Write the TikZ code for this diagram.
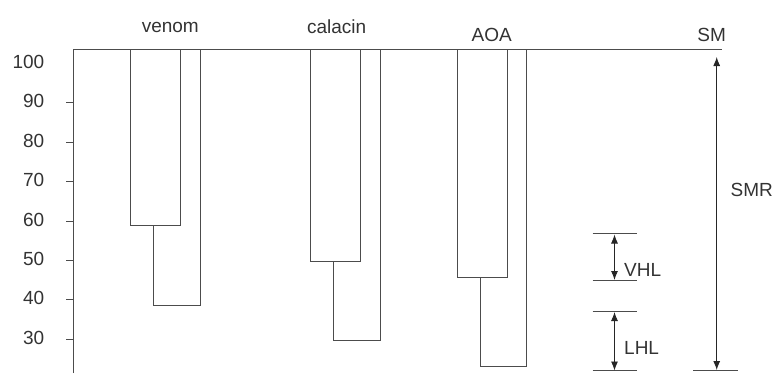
\documentclass[tikz,border=0pt]{standalone}
\usepackage{fontspec}
\setmainfont{Liberation Sans}
\usetikzlibrary{arrows.meta}
\tikzset{
  rule/.style={draw=black!70, line width=0.9pt},
  bar/.style={draw=black!70, fill=white, line width=0.9pt},
  lbl/.style={text=black!80, font=\fontsize{19}{21}\selectfont, inner sep=0pt},
  dimarrow/.style={draw=black!85, line width=0.9pt,
    {Latex[length=9pt,width=7pt]}-{Latex[length=9pt,width=7pt]}},
}
\begin{document}
\begin{tikzpicture}[x=1pt,y=-1pt]
        \pgfmathsetmacro{\s}{3.94};
        \pgfmathsetmacro{\o}{63.5};
        \useasboundingbox (0,0) rectangle (773,373);
        % axis and SM line
        \draw [rule] (73,373) -- (73,49) -- (722,49);
        \foreach \v in {30,40,...,90}
          \draw [rule] (66,{\o+(100-\v)*\s}) -- (73,{\o+(100-\v)*\s});
        \foreach \v in {30,40,...,100}
          \node [lbl, anchor=east] (tick\v) at (44.5,{\o+(100-\v)*\s-1.5}) {\v};
        % venom
        \draw [bar] (153.3,49) rectangle (200.3,{\o+(100-38.6)*\s});
        \draw [bar] (130.7,49) rectangle (180.3,{\o+(100-58.8)*\s});
        \node [lbl] (venom) at (170.3,27) {venom};
        % calacin
        \draw [bar] (333.3,49) rectangle (380.3,{\o+(100-29.7)*\s});
        \draw [bar] (310.7,49) rectangle (360.3,{\o+(100-49.7)*\s});
        \node [lbl] (calacin) at (336.7,27) {calacin};
        % AOA
        \draw [bar] (480,49) rectangle (526.7,{\o+(100-23)*\s});
        \draw [bar] (457.7,49) rectangle (507,{\o+(100-45.7)*\s});
        \node [lbl] (aoa) at (491.7,35) {AOA};
        % SM and SMR
        \node [lbl] (sm) at (711.7,35) {SM};
        \coordinate (smrtop) at (716.7,57);
        \coordinate (smrbot) at (716.7,370);
        \draw [dimarrow] (smrtop) -- (smrbot);
        \draw [rule] (693.3,370) -- (738.3,370);
        \node [lbl, anchor=west] (smr) at (730.5,190) {SMR};
        % VHL
        \draw [rule] (592.5,233.3) -- (637.3,233.3);
        \draw [rule] (592.5,280) -- (637.3,280);
        \coordinate (vhltop) at (614.5,234.5);
        \coordinate (vhlbot) at (614.5,280);
        \draw [dimarrow] (vhltop) -- (vhlbot);
        \node [lbl, anchor=west] (vhl) at (624,270) {VHL};
        % LHL
        \draw [rule] (592.5,311) -- (637.3,311);
        \draw [rule] (592.5,370.5) -- (637.3,370.5);
        \coordinate (lhltop) at (614.5,312);
        \coordinate (lhlbot) at (614.5,370.5);
        \draw [dimarrow] (lhltop) -- (lhlbot);
        \node [lbl, anchor=west] (lhl) at (624,348) {LHL};
\end{tikzpicture}
\end{document}
